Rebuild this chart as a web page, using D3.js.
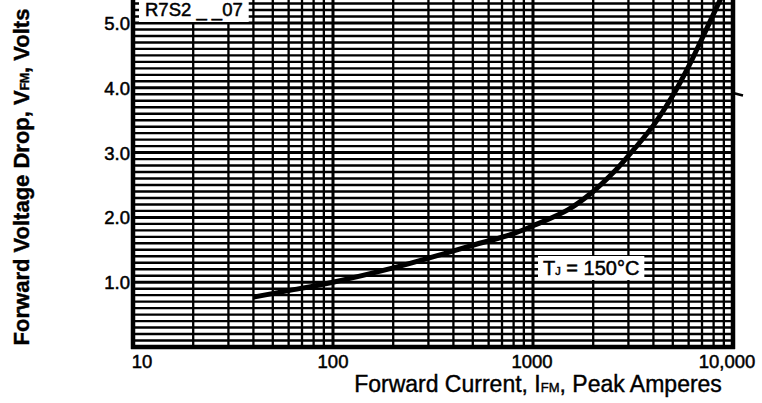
<!DOCTYPE html>
<html>
<head>
<meta charset="utf-8">
<script src="https://cdn.jsdelivr.net/npm/d3@7"></script>
<style>
  body { margin: 0; background: #fff; }
  svg { display: block; font-family: "Liberation Sans", Arial, Helvetica, sans-serif; }
  .tick-lbl { font-size: 18.5px; fill: #000; stroke: #000; stroke-width: 0.5px; }
  .title { font-size: 23px; fill: #000; stroke: #000; stroke-width: 0.4px; }
</style>
</head>
<body>
<div id="chart-container"></div>
<script>
var width = 762
var height = 403

// forward current (A) vs forward voltage drop (V), Tj = 150C
var current = [40, 60, 100, 200, 350, 500, 800, 1000, 1500, 2000, 2500, 3000, 4000, 5000, 6000, 7000, 8000, 9000]
var voltage = [0.77, 0.87, 1.00, 1.22, 1.43, 1.57, 1.75, 1.87, 2.12, 2.40, 2.68, 2.95, 3.42, 3.88, 4.33, 4.76, 5.14, 5.48]

var xTicks = [10, 100, 1000, 10000]
var xTickLabels = ['10', '100', '1000', '10,000']
var yTicks = [1, 2, 3, 4, 5]
var yTickLabels = ['1.0', '2.0', '3.0', '4.0', '5.0']

var x = d3.scaleLog().domain([10, 10000]).range([133, 733])
var y = d3.scaleLinear().domain([0, 5]).range([347, 23])
var yTop = 6

var svg = d3.select("#chart-container").append("svg").attr('width', width).attr('height', height)

// horizontal grid every 0.1 V
var hLines = d3.range(1, yTop * 10 + 1).map(function(d) { return d / 10 })
svg.append("g").selectAll("line").data(hLines).enter().append("line")
  .attr("x1", x(10)).attr("x2", x(10000))
  .attr("y1", function(d) { return y(d) }).attr("y2", function(d) { return y(d) })
  .attr("stroke", "#000")
  .attr("stroke-width", function(d) { return Math.abs(d - Math.round(d)) < 1e-6 ? 3 : 2.4 })

// vertical grid 1..9 per decade
var vLines = []
;[10, 100, 1000].forEach(function(dec) {
  for (var k = 1; k <= 9; k++) vLines.push(dec * k)
})
svg.append("g").selectAll("line").data(vLines).enter().append("line")
  .attr("x1", function(d) { return x(d) }).attr("x2", function(d) { return x(d) })
  .attr("y1", y(0)).attr("y2", y(yTop))
  .attr("stroke", "#000")
  .attr("stroke-width", function(d) { return xTicks.indexOf(d) >= 0 ? 3 : 2.3 })

// frame
svg.append("line").attr("x1", x(10)).attr("x2", x(10)).attr("y1", y(0) + 2).attr("y2", y(yTop)).attr("stroke", "#000").attr("stroke-width", 4.5)
svg.append("line").attr("x1", x(10000)).attr("x2", x(10000)).attr("y1", y(0) + 2).attr("y2", y(yTop)).attr("stroke", "#000").attr("stroke-width", 4.5)
svg.append("line").attr("x1", x(10) - 2).attr("x2", x(10000) + 2).attr("y1", y(0)).attr("y2", y(0)).attr("stroke", "#000").attr("stroke-width", 4.5)
svg.append("line").attr("x1", x(10000)).attr("x2", x(10000) + 10).attr("y1", y(3.92)).attr("y2", y(3.88)).attr("stroke", "#000").attr("stroke-width", 2.5)

// curve
var pts = current.map(function(c, i) { return [c, voltage[i]] })
svg.append("path").datum(pts)
  .attr("fill", "none").attr("stroke", "#000").attr("stroke-width", 5)
  .attr("d", d3.line().curve(d3.curveCatmullRom)
    .x(function(d) { return x(d[0]) })
    .y(function(d) { return y(d[1]) }))

// labels on the grid
function boxLabel(tx, ty, size, parts, pad) {
  var g = svg.append("g")
  var t = g.append("text").attr("x", tx).attr("y", ty).attr("class", "tick-lbl").style("font-size", size)
  parts.forEach(function(p) {
    var s = t.append("tspan").text(p.text)
    if (p.size) s.style("font-size", p.size)
  })
  var bb = t.node().getBBox()
  g.insert("rect", "text").attr("x", bb.x - pad[0]).attr("y", bb.y - pad[1])
    .attr("width", bb.width + pad[0] * 2).attr("height", bb.height + pad[1] * 2).attr("fill", "#fff")
}
boxLabel(145, 16, "18.5px", [{ text: "R7S2 _ _07" }], [6, 1])
boxLabel(543, 275, "20px", [{ text: "T" }, { text: "J", size: "11px" }, { text: " = 150°C" }], [5, 1])

// tick labels
svg.append("g").selectAll("text").data(yTicks).enter().append("text")
  .attr("class", "tick-lbl").attr("x", 130).attr("y", function(d) { return y(d) + 7 })
  .attr("text-anchor", "end").text(function(d, i) { return yTickLabels[i] })
var xOff = [9, 0, -1, -6]
svg.append("g").selectAll("text").data(xTicks).enter().append("text")
  .attr("class", "tick-lbl").attr("x", function(d, i) { return x(d) + xOff[i] }).attr("y", 368)
  .attr("text-anchor", "middle").text(function(d, i) { return xTickLabels[i] })

// axis titles
var xt = svg.append("text").attr("class", "title").attr("x", 538).attr("y", 392).attr("text-anchor", "middle")
xt.append("tspan").text("Forward Current, I")
xt.append("tspan").style("font-size", "13px").text("FM")
xt.append("tspan").text(", Peak Amperes")

var yt = svg.append("text").attr("class", "title").attr("font-weight", "bold").style("font-size", "22px")
  .attr("transform", "translate(29,177) rotate(-90)").attr("text-anchor", "middle")
yt.append("tspan").text("Forward Voltage Drop, V")
yt.append("tspan").style("font-size", "12px").text("FM")
yt.append("tspan").text(", Volts")
</script>
</body>
</html>
